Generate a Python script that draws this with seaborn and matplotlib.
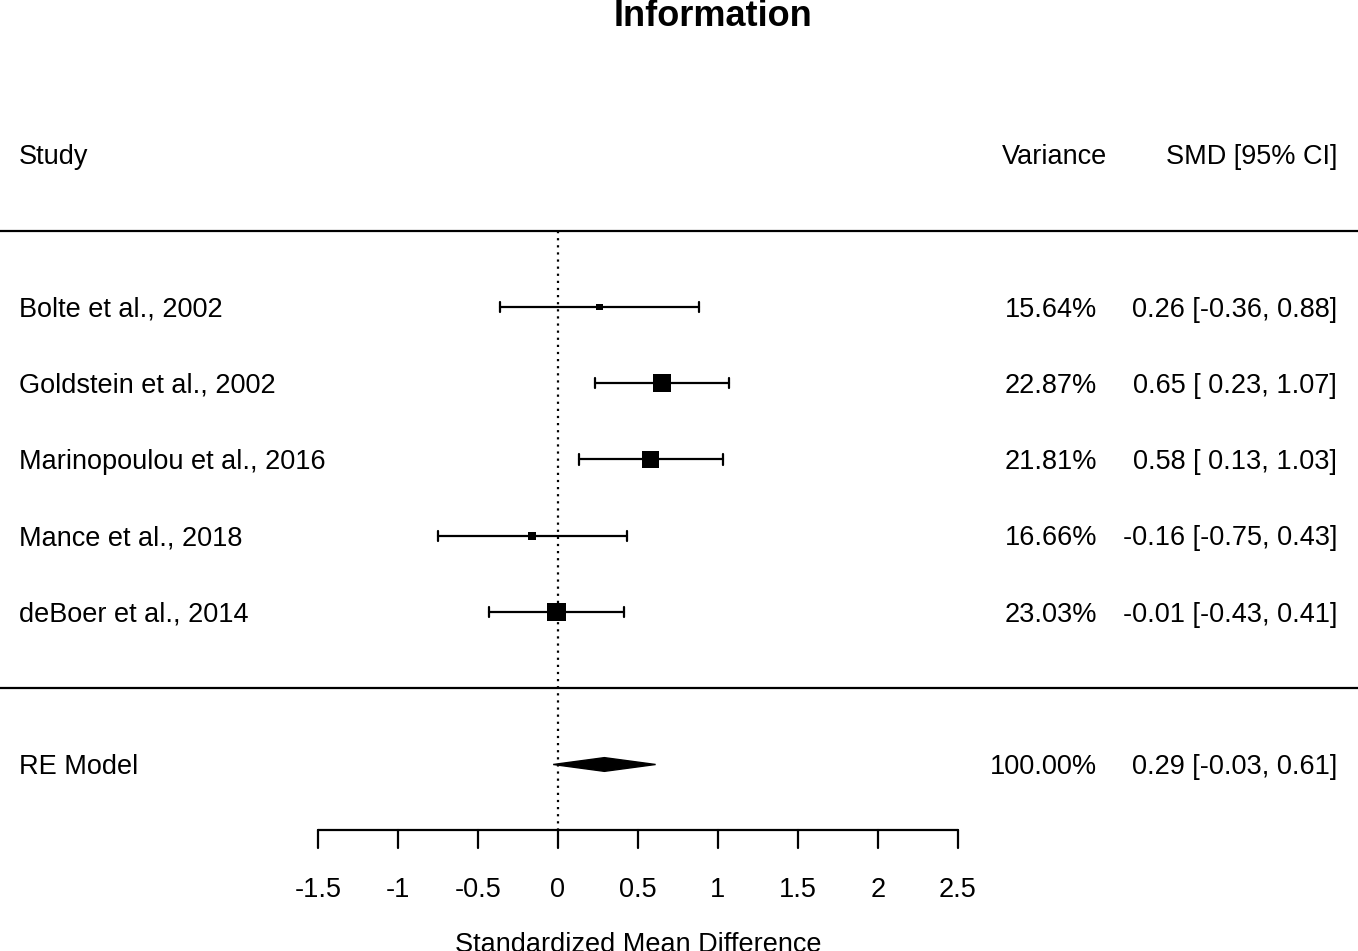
import numpy as np
import pandas as pd
import seaborn as sns
import matplotlib.pyplot as plt

# Данные forest plot
studies = ["Bolte et al., 2002", "Goldstein et al., 2002", "Marinopoulou et al., 2016",
           "Mance et al., 2018", "deBoer et al., 2014"]
smd = [0.26, 0.65, 0.58, -0.16, -0.01]
ci_low = [-0.36, 0.23, 0.13, -0.75, -0.43]
ci_high = [0.88, 1.07, 1.03, 0.43, 0.41]
weights = [15.64, 22.87, 21.81, 16.66, 23.03]
weight_labels = ["15.64%", "22.87%", "21.81%", "16.66%", "23.03%"]
ci_labels = ["0.26 [-0.36, 0.88]", "0.65 [ 0.23, 1.07]", "0.58 [ 0.13, 1.03]",
             "-0.16 [-0.75, 0.43]", "-0.01 [-0.43, 0.41]"]
re_est, re_low, re_high = 0.29, -0.03, 0.61
re_weight_label = "100.00%"
re_label = "0.29 [-0.03, 0.61]"
ticks = [-1.5, -1, -0.5, 0, 0.5, 1, 1.5, 2, 2.5]
tick_labels = ["-1.5", "-1", "-0.5", "0", "0.5", "1", "1.5", "2", "2.5"]

rows = list(range(len(studies), 0, -1))

sns.set_style("white")
plt.rcParams["font.family"] = ["Liberation Sans", "DejaVu Sans"]
plt.rcParams["text.color"] = "black"

fig = plt.figure(figsize=(13.58, 9.51), dpi=100)
ax = fig.add_axes([0, 0, 1, 1])
ax.set_xlim(-3.4875, 5.0)
ax.set_ylim(-3.446, 9.026)
ax.axis("off")

fs = 19.5
dy = -0.035  # небольшой сдвиг текста вниз
x_left = -3.369
x_var = 3.369
x_smd = 4.869
lw = 1.6

# Заголовок
ax.text(0.97, 8.84 + dy, "Information", fontsize=26, fontweight="bold", ha="center", va="center")
ax.text(x_left, 7 + dy, "Study", fontsize=fs, ha="left", va="center")
ax.text(3.431, 7 + dy, "Variance", fontsize=fs, ha="right", va="center")
ax.text(x_smd, 7 + dy, "SMD [95% CI]", fontsize=fs, ha="right", va="center")

# Горизонтальные линии
for yl in [6, 0]:
    ax.axhline(yl, color="black", lw=lw)

# Вертикальная пунктирная линия на нуле
ax.plot([0, 0], [6, -1.859], color="black", lw=lw, ls=(0, (1, 2.2)))

# Доверительные интервалы
cap = 0.066
for r, lo, hi in zip(rows, ci_low, ci_high):
    ax.plot([lo, hi], [r, r], color="black", lw=lw)
    ax.plot([lo, lo], [r - cap, r + cap], color="black", lw=lw)
    ax.plot([hi, hi], [r - cap, r + cap], color="black", lw=lw)

# Квадраты по весам (линейно, как в metafor)
w = np.array(weights)
psize = 0.5 + (w - w.min()) / (w.max() - w.min())
side_pt = 12.5 * psize * 0.72
df = pd.DataFrame({"smd": smd, "row": rows, "area": side_pt ** 2})
sns.scatterplot(data=df, x="smd", y="row", size="area",
                sizes={a: a for a in df["area"]}, marker="s", color="black",
                linewidth=0, legend=False, ax=ax, zorder=3)
ax.set_xlabel("")
ax.set_ylabel("")

# Подписи исследований
for r, s, wl, cl in zip(rows, studies, weight_labels, ci_labels):
    ax.text(x_left, r + dy, s, fontsize=fs, ha="left", va="center")
    ax.text(x_var, r + dy, wl, fontsize=fs, ha="right", va="center")
    ax.text(x_smd, r + dy, cl, fontsize=fs, ha="right", va="center")

# RE Model
h = 0.09
ax.fill([re_low, re_est, re_high, re_est], [-1, -1 + h, -1, -1 - h], color="black", zorder=3)
ax.text(x_left, -1 + dy, "RE Model", fontsize=fs, ha="left", va="center")
ax.text(x_var, -1 + dy, re_weight_label, fontsize=fs, ha="right", va="center")
ax.text(x_smd, -1 + dy, re_label, fontsize=fs, ha="right", va="center")

# Ось
ax.plot([ticks[0], ticks[-1]], [-1.859, -1.859], color="black", lw=lw)
for t, tl in zip(ticks, tick_labels):
    ax.plot([t, t], [-1.859, -2.095], color="black", lw=lw)
    ax.text(t, -2.606 + dy, tl, fontsize=fs, ha="center", va="center")
ax.text(0.5, -3.328 + dy, "Standardized Mean Difference", fontsize=fs, ha="center", va="center")

fig.savefig("out.png", dpi=100)
